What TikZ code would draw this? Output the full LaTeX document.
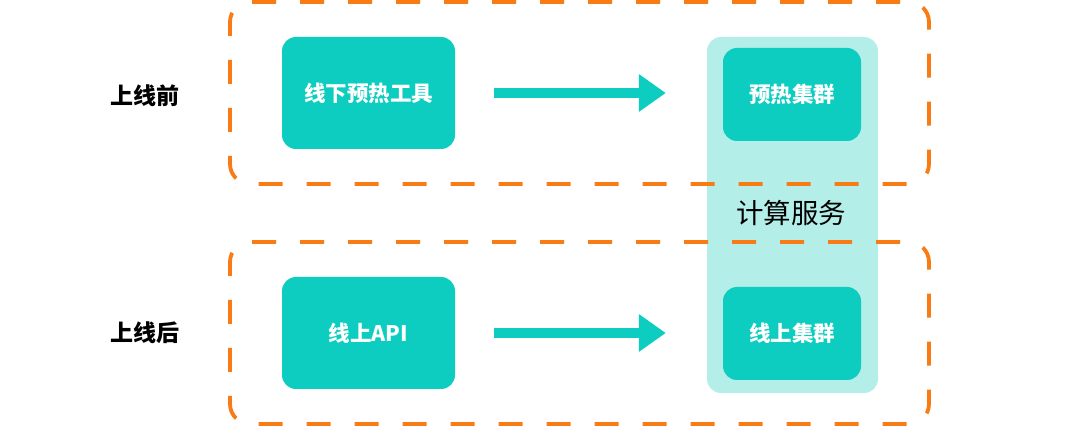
\documentclass[tikz,border=0pt]{standalone}
\usepackage{fontspec}
\setmainfont{Noto Sans CJK SC}
\usetikzlibrary{arrows.meta}
\definecolor{teal1}{HTML}{0CCDC0}
\definecolor{teallight}{HTML}{B4EEE9}
\definecolor{orng}{HTML}{F97B14}
\tikzset{
  grp/.style={draw=orng, line width=3.8pt, dash pattern=on 24pt off 24pt, rounded corners=20pt},
  tealbox/.style={fill=teal1, rounded corners=14pt, text=white, font=\bfseries\fontsize{21.5}{26}\selectfont, inner sep=0pt},
  col/.style={fill=teallight, rounded corners=14pt, inner sep=0pt},
  sidelab/.style={font=\bfseries\fontsize{23}{27}\selectfont, text=black},
  flow/.style={teal1, line width=10pt, -{Triangle[length=27pt,width=36pt]}},
}
\begin{document}
\begin{tikzpicture}[x=1pt,y=-1pt]
\useasboundingbox (0,0) rectangle (1080,427);
% light column
\node[col, minimum width=171pt, minimum height=356pt] (svc) at (792.5,215) {};
% groups
\draw[grp, dash phase=10pt] (230,2) rectangle (929,184);
\draw[grp, dash phase=10pt] (230,242) rectangle (929,424);
% boxes
\node[tealbox, minimum width=173pt, minimum height=112pt] (tool) at (368.5,93) {线下预热工具};
\node[tealbox, minimum width=173pt, minimum height=112pt] (api) at (368.5,333) {线上API};
\node[tealbox, minimum width=138pt, minimum height=93pt] (hot) at (792,94.5) {预热集群};
\node[tealbox, minimum width=138pt, minimum height=93pt] (online) at (792,333.5) {线上集群};
\node[font=\fontsize{27.5}{32}\selectfont, text=black] (svclab) at (791,213) {计算服务};
% side labels
\node[sidelab] (before) at (145,96) {上线前};
\node[sidelab] (after) at (145,333) {上线后};
% arrows
\draw[flow, shorten <=39pt, shorten >=41pt] (tool.east) -- (tool.east -| svc.west);
\draw[flow, shorten <=39pt, shorten >=41pt] (api.east) -- (api.east -| svc.west);
\end{tikzpicture}
\end{document}
